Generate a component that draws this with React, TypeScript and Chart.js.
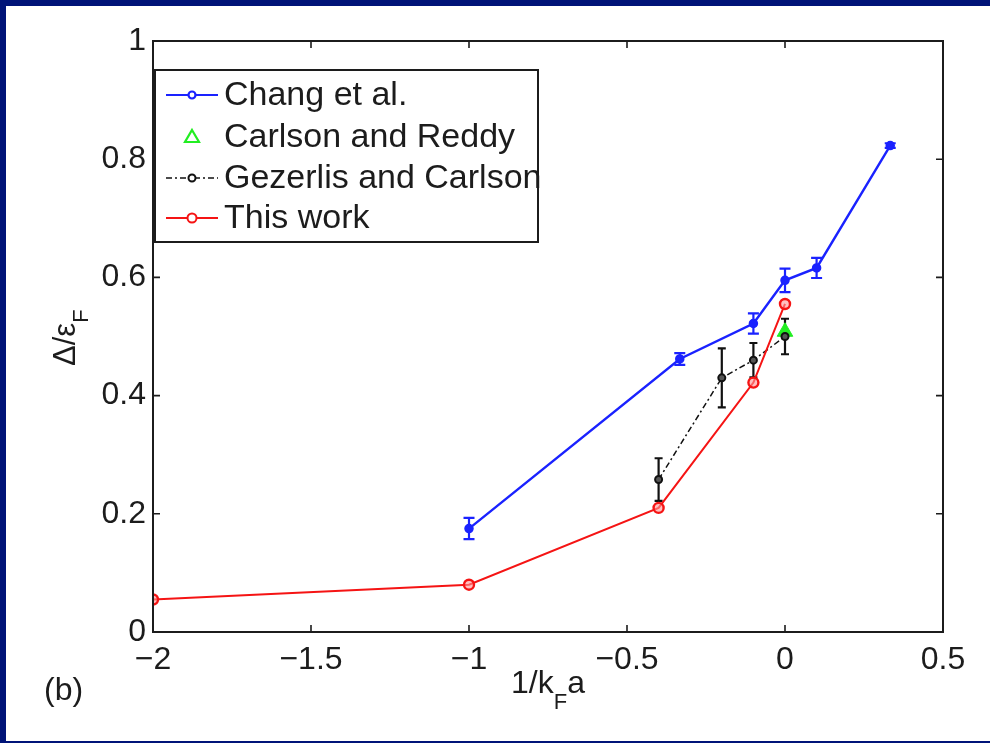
import React, { useEffect, useRef } from 'react';
import { Chart, registerables } from 'chart.js';

Chart.register(...registerables);

// ---- data ----
const changX = [-1, -0.333, -0.1, 0, 0.1, 0.333];
const changY = [0.175, 0.462, 0.522, 0.595, 0.616, 0.823];
const changErr = [0.018, 0.01, 0.017, 0.02, 0.017, 0.004];

const reddyX = [0];
const reddyY = [0.508];

const gezX = [-0.4, -0.2, -0.1, 0];
const gezY = [0.258, 0.43, 0.46, 0.5];
const gezErr = [0.036, 0.05, 0.029, 0.03];

const workX = [-2, -1, -0.4, -0.1, 0];
const workY = [0.055, 0.08, 0.21, 0.422, 0.555];

const xTicks = [-2, -1.5, -1, -0.5, 0, 0.5];
const yTicks = [0, 0.2, 0.4, 0.6, 0.8, 1];

const legendLabels = ['Chang et al.', 'Carlson and Reddy', 'Gezerlis and Carlson', 'This work'];

const FONT = '"Liberation Sans", Arial, Helvetica, sans-serif';
const BLUE = '#1a22ff';
const GREEN = '#22ee22';
const BLACK = '#111111';
const RED = '#f51414';
const INK = '#1c1c1c';

const fmt = (v: number) => {
  const s = Math.abs(v) < 1e-9 ? '0' : String(Math.round(Math.abs(v) * 10) / 10);
  return v < -1e-9 ? '\u2212' + s : s;
};

const pts = (xs: number[], ys: number[]) => xs.map((x, i) => ({ x, y: ys[i] }));

const errorBarPlugin = {
  id: 'errorBars',
  beforeDatasetsDraw(chart: any) {
    const { ctx } = chart;
    const xs = chart.scales.x;
    const ys = chart.scales.y;
    const sets = [
      { x: changX, y: changY, e: changErr, color: BLUE, w: 2.2, cap: 5.5 },
      { x: gezX, y: gezY, e: gezErr, color: BLACK, w: 2.2, cap: 4 },
    ];
    ctx.save();
    sets.forEach((s) => {
      ctx.strokeStyle = s.color;
      ctx.lineWidth = s.w;
      s.x.forEach((xv, i) => {
        const px = xs.getPixelForValue(xv);
        const t = ys.getPixelForValue(s.y[i] + s.e[i]);
        const b = ys.getPixelForValue(s.y[i] - s.e[i]);
        ctx.beginPath();
        ctx.moveTo(px, t);
        ctx.lineTo(px, b);
        ctx.moveTo(px - s.cap, t);
        ctx.lineTo(px + s.cap, t);
        ctx.moveTo(px - s.cap, b);
        ctx.lineTo(px + s.cap, b);
        ctx.stroke();
      });
    });
    ctx.restore();
  },
};

const framePlugin = {
  id: 'frame',
  afterDatasetsDraw(chart: any) {
    const { ctx, chartArea: a } = chart;
    const xs = chart.scales.x;
    const ys = chart.scales.y;
    ctx.save();
    ctx.strokeStyle = INK;
    ctx.lineWidth = 2;
    ctx.strokeRect(a.left, a.top, a.right - a.left, a.bottom - a.top);
    ctx.lineWidth = 1.6;
    const tl = 7;
    ctx.beginPath();
    xTicks.forEach((v) => {
      const px = xs.getPixelForValue(v);
      ctx.moveTo(px, a.bottom);
      ctx.lineTo(px, a.bottom - tl);
      ctx.moveTo(px, a.top);
      ctx.lineTo(px, a.top + tl);
    });
    yTicks.forEach((v) => {
      const py = ys.getPixelForValue(v);
      ctx.moveTo(a.left, py);
      ctx.lineTo(a.left + tl, py);
      ctx.moveTo(a.right, py);
      ctx.lineTo(a.right - tl, py);
    });
    ctx.stroke();
    ctx.restore();
  },
  afterDraw(chart: any) {
    const { ctx } = chart;
    ctx.save();
    // legend
    const L = 155, T = 70, R = 538, B = 242;
    ctx.fillStyle = '#ffffff';
    ctx.fillRect(L, T, R - L, B - T);
    ctx.strokeStyle = INK;
    ctx.lineWidth = 2;
    ctx.strokeRect(L, T, R - L, B - T);
    const rows = [95, 137, 178, 218];
    const x0 = 166, x1 = 218, xm = 192;
    ctx.font = `34px ${FONT}`;
    ctx.textBaseline = 'middle';
    ctx.textAlign = 'left';
    legendLabels.forEach((lab, i) => {
      const y = rows[i];
      ctx.setLineDash([]);
      if (i === 0) {
        ctx.strokeStyle = BLUE; ctx.lineWidth = 2.2;
        ctx.beginPath(); ctx.moveTo(x0, y); ctx.lineTo(x1, y); ctx.stroke();
        ctx.beginPath(); ctx.arc(xm, y, 3.5, 0, Math.PI * 2); ctx.fillStyle = '#fff'; ctx.fill(); ctx.stroke();
      } else if (i === 1) {
        ctx.strokeStyle = GREEN; ctx.lineWidth = 2.2;
        ctx.beginPath();
        ctx.moveTo(xm, y - 7); ctx.lineTo(xm + 7, y + 5); ctx.lineTo(xm - 7, y + 5); ctx.closePath();
        ctx.stroke();
      } else if (i === 2) {
        ctx.strokeStyle = BLACK; ctx.lineWidth = 1.6;
        ctx.setLineDash([6, 3, 2, 3]);
        ctx.beginPath(); ctx.moveTo(x0, y); ctx.lineTo(x1, y); ctx.stroke();
        ctx.setLineDash([]);
        ctx.lineWidth = 2;
        ctx.beginPath(); ctx.arc(xm, y, 3.5, 0, Math.PI * 2); ctx.fillStyle = '#fff'; ctx.fill(); ctx.stroke();
      } else {
        ctx.strokeStyle = RED; ctx.lineWidth = 2;
        ctx.beginPath(); ctx.moveTo(x0, y); ctx.lineTo(x1, y); ctx.stroke();
        ctx.beginPath(); ctx.arc(xm, y, 4.5, 0, Math.PI * 2); ctx.fillStyle = '#fff'; ctx.fill(); ctx.stroke();
      }
      ctx.fillStyle = INK;
      ctx.fillText(lab, 224, y + 1);
    });

    // x axis title 1/k_F a
    ctx.fillStyle = INK;
    ctx.textBaseline = 'alphabetic';
    ctx.font = `32px ${FONT}`;
    let tx = 511;
    const by = 693;
    ctx.fillText('1/k', tx, by);
    tx += ctx.measureText('1/k').width;
    ctx.font = `22px ${FONT}`;
    ctx.fillText('F', tx, by + 16);
    tx += ctx.measureText('F').width;
    ctx.font = `32px ${FONT}`;
    ctx.fillText('a', tx, by);

    // (b)
    ctx.font = `32px ${FONT}`;
    ctx.fillText('(b)', 44, 700);

    // y axis title Δ/ε_F
    ctx.save();
    ctx.translate(75, 366);
    ctx.rotate(-Math.PI / 2);
    ctx.font = `31px ${FONT}`;
    ctx.fillText('\u0394/\u03b5', 0, 0);
    const w = ctx.measureText('\u0394/\u03b5').width;
    ctx.font = `22px ${FONT}`;
    ctx.fillText('F', w, 13);
    ctx.restore();

    ctx.restore();
  },
};

export default function App() {
  const ref = useRef<HTMLCanvasElement | null>(null);

  useEffect(() => {
    document.body.style.margin = '0';
    if (!ref.current) return;
    const chart = new Chart(ref.current, {
      type: 'scatter',
      data: {
        datasets: [
          {
            label: legendLabels[3],
            data: pts(workX, workY),
            showLine: true,
            borderColor: RED,
            backgroundColor: '#ffffff',
            borderWidth: 2,
            pointRadius: 5,
            pointBorderWidth: 2.4,
            pointBorderColor: RED,
            pointBackgroundColor: 'rgba(255,150,150,0.6)',
            order: 0,
          },
          {
            label: legendLabels[2],
            data: pts(gezX, gezY),
            showLine: true,
            borderColor: BLACK,
            borderWidth: 1.5,
            borderDash: [6, 3, 2, 3],
            pointRadius: 3.5,
            pointBorderWidth: 2,
            pointBorderColor: BLACK,
            pointBackgroundColor: '#555555',
            order: 1,
          },
          {
            label: legendLabels[1],
            data: pts(reddyX, reddyY),
            showLine: false,
            pointStyle: 'triangle',
            pointRadius: 9,
            pointBorderWidth: 1,
            pointBorderColor: GREEN,
            pointBackgroundColor: GREEN,
            order: 2,
          },
          {
            label: legendLabels[0],
            data: pts(changX, changY),
            showLine: true,
            borderColor: BLUE,
            borderWidth: 2.4,
            pointRadius: 4,
            pointBorderWidth: 1.5,
            pointBorderColor: BLUE,
            pointBackgroundColor: BLUE,
            order: 3,
          },
        ],
      },
      options: {
        animation: false,
        responsive: false,
        maintainAspectRatio: false,
        events: [],
        layout: { padding: { left: 0, top: 41, right: 47, bottom: 0 } },
        plugins: {
          legend: { display: false },
          tooltip: { enabled: false },
        },
        scales: {
          x: {
            type: 'linear',
            min: -2,
            max: 0.5,
            grid: { display: false, drawTicks: false },
            border: { display: false },
            afterBuildTicks: (s: any) => {
              s.ticks = xTicks.map((v) => ({ value: v }));
            },
            afterFit: (s: any) => {
              s.height = 111;
            },
            ticks: {
              autoSkip: false,
              maxRotation: 0,
              padding: 9,
              color: INK,
              font: { family: FONT, size: 32 },
              callback: (v: any) => fmt(Number(v)),
            },
          },
          y: {
            type: 'linear',
            min: 0,
            max: 1,
            grid: { display: false, drawTicks: false },
            border: { display: false },
            afterBuildTicks: (s: any) => {
              s.ticks = yTicks.map((v) => ({ value: v }));
            },
            afterFit: (s: any) => {
              s.width = 153;
            },
            ticks: {
              autoSkip: false,
              padding: 7,
              color: INK,
              font: { family: FONT, size: 32 },
              callback: (v: any) => fmt(Number(v)),
            },
          },
        },
      },
      plugins: [errorBarPlugin, framePlugin],
    } as any);
    return () => chart.destroy();
  }, []);

  return (
    <div style={{ position: 'relative', width: 990, height: 743, background: '#001478', overflow: 'hidden' }}>
      <div style={{ position: 'absolute', left: 6, top: 6, width: 984, height: 735, background: '#ffffff' }} />
      <canvas ref={ref} width={990} height={743} style={{ position: 'absolute', left: 0, top: 0, width: 990, height: 743 }} />
    </div>
  );
}
